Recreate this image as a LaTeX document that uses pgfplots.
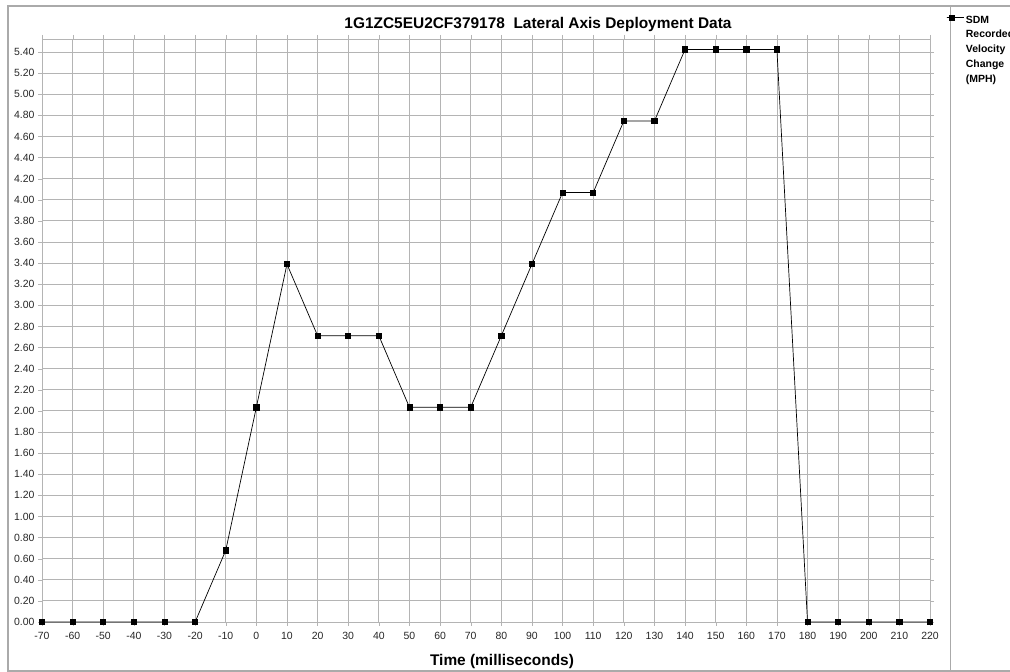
\documentclass[border=0pt]{standalone}
\usepackage{pgfplots}
\pgfplotsset{compat=1.18}
\usepackage{fontspec}
\setmainfont{Liberation Sans}
\definecolor{gridgray}{RGB}{180,180,180}
\definecolor{framegray}{RGB}{170,170,170}
\begin{document}
\begin{tikzpicture}[x=1bp,y=1bp]
\path[use as bounding box] (0,0) rectangle (1010,672);
\draw[framegray,line width=1.5bp] (8,1) rectangle (1030,666);
\draw[framegray,line width=1bp] (950,1) -- (950,666);
\begin{axis}[
  at={(42bp,50bp)}, anchor=south west,
  scale only axis, width=888bp, height=583bp,
  xmin=-70, xmax=220, ymin=0, ymax=5.523,
  xtick={-70,-60,...,220},
  ytick={0,0.2,...,5.41},
  yticklabel style={/pgf/number format/.cd,fixed,fixed zerofill,precision=2},
  xticklabel style={yshift=-3bp},
  /pgf/number format/assume math mode=true,
  ticklabel style={font=\fontsize{10.5}{12}\selectfont, text=black!85},
  xtick align=outside, ytick align=outside,
  major tick length=4bp,
  tick style={gridgray},
  axis line style={gridgray},
  grid=major,
  major grid style={gridgray, line width=0.8bp},
  title={\textbf{1G1ZC5EU2CF379178\ \ Lateral Axis Deployment Data}},
  title style={font=\fontsize{15.5}{17}\selectfont, at={(axis description cs:0.5586,1)}, anchor=center, yshift=9bp},
  xlabel={\textbf{Time (milliseconds)}},
  xlabel style={font=\fontsize{15.5}{17}\selectfont, at={(axis description cs:0.518,0)}, anchor=center, yshift=-40bp},
  legend style={at={(axis description cs:1.018,1.044)}, anchor=north west, draw=none, fill=none,
    font=\fontsize{10.5}{15}\selectfont\bfseries, cells={align=left, anchor=north west}, inner sep=0pt},
  legend image code/.code={\path (0bp,-4bp) -- (17bp,-4bp); \draw[#1] (0bp,-4bp) -- (11bp,-4bp); \draw[#1,mark repeat=2,mark phase=2] plot coordinates {(0bp,-4bp) (5.5bp,-4bp) (11bp,-4bp)};},
  clip=false,
]
\addplot[black, line width=0.7bp, mark=square*, mark size=2.6bp, mark options={solid,fill=black}] coordinates {
(-70,0) (-60,0) (-50,0) (-40,0) (-30,0) (-20,0)
(-10,0.678) (0,2.034) (10,3.390) (20,2.712) (30,2.712) (40,2.712)
(50,2.034) (60,2.034) (70,2.034) (80,2.712) (90,3.390)
(100,4.068) (110,4.068) (120,4.746) (130,4.746)
(140,5.424) (150,5.424) (160,5.424) (170,5.424)
(180,0) (190,0) (200,0) (210,0) (220,0)
};
\addlegendentry{SDM\\Recorded\\Velocity\\Change\\(MPH)}
\end{axis}
\end{tikzpicture}
\end{document}
